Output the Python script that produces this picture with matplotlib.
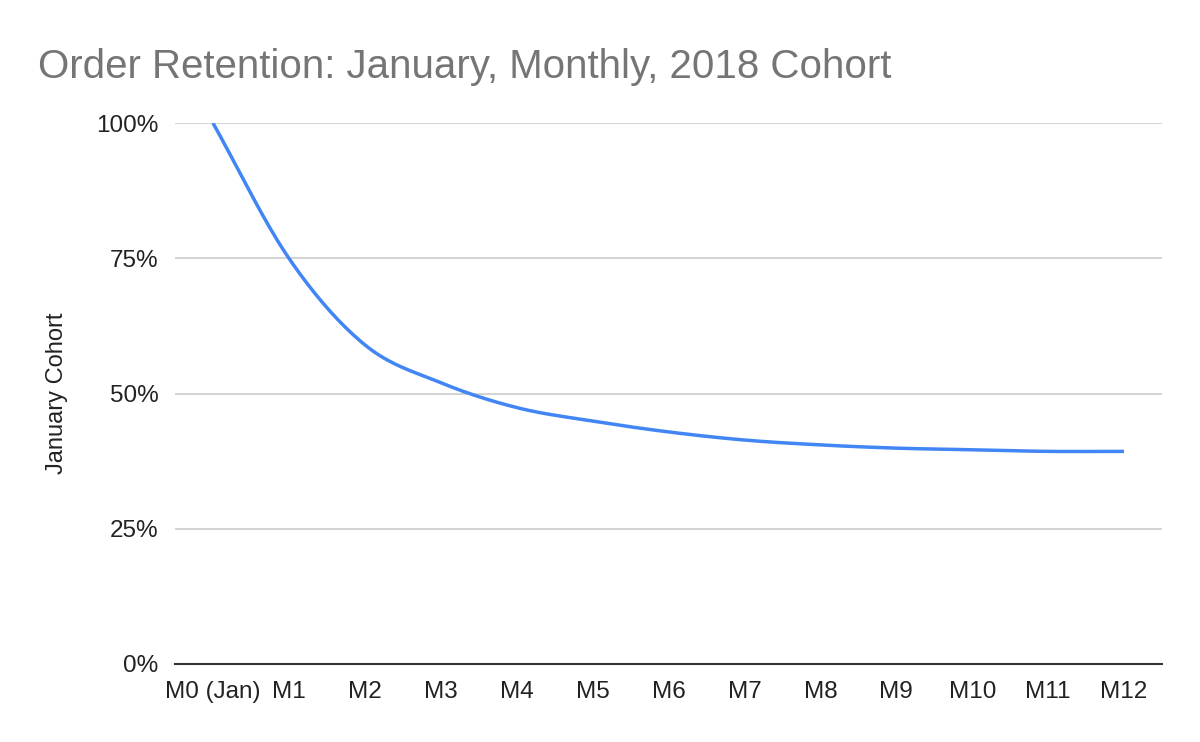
import numpy as np
import matplotlib
matplotlib.use("Agg")
import matplotlib.pyplot as plt
from matplotlib.ticker import FuncFormatter

plt.rcParams['font.family'] = ['Liberation Sans', 'DejaVu Sans']

months = ["M0 (Jan)", "M1", "M2", "M3", "M4", "M5", "M6",
          "M7", "M8", "M9", "M10", "M11", "M12"]
retention = [1.00, 0.75, 0.59, 0.52, 0.474, 0.449, 0.429,
             0.414, 0.405, 0.399, 0.396, 0.393, 0.393]
yticks = [0, 0.25, 0.5, 0.75, 1.0]


def smooth(x, y, n=20):
    # catmull-rom through the points, like the sheets "smooth" line
    x = np.asarray(x, float)
    y = np.asarray(y, float)
    px = np.concatenate([[2 * x[0] - x[1]], x, [2 * x[-1] - x[-2]]])
    py = np.concatenate([[2 * y[0] - y[1]], y, [2 * y[-1] - y[-2]]])
    xs, ys = [], []
    t = np.linspace(0, 1, n, endpoint=False)
    for i in range(1, len(px) - 2):
        for p, out in ((px, xs), (py, ys)):
            p0, p1, p2, p3 = p[i - 1], p[i], p[i + 1], p[i + 2]
            out.extend(0.5 * ((2 * p1) + (-p0 + p2) * t
                              + (2 * p0 - 5 * p1 + 4 * p2 - p3) * t ** 2
                              + (-p0 + 3 * p1 - 3 * p2 + p3) * t ** 3))
    xs.append(x[-1])
    ys.append(y[-1])
    return np.array(xs), np.array(ys)


fig = plt.figure(figsize=(12, 7.42), dpi=100)
ax = fig.add_axes([175 / 1200, 1 - 664 / 742, (1162 - 175) / 1200, (664 - 123) / 742])

xpos = np.arange(len(months))
sx, sy = smooth(xpos, retention)
ax.plot(sx, sy, color="#4285f4", lw=2.5, solid_capstyle="butt", zorder=3)

ax.set_xlim(-0.5, len(months) - 0.5)
ax.set_ylim(0, 1)
ax.set_xticks(xpos)
ax.set_xticklabels(months)
ax.set_yticks(yticks)
ax.yaxis.set_major_formatter(FuncFormatter(lambda v, p: f"{int(round(v * 100))}%"))
ax.grid(axis="y", color="#cccccc", lw=1.2)
ax.set_axisbelow(True)
for s in ["top", "right", "left"]:
    ax.spines[s].set_visible(False)
ax.spines["bottom"].set_color("#333333")
ax.spines["bottom"].set_linewidth(1.5)
ax.spines["bottom"].set_zorder(4)
ax.tick_params(axis="both", length=0, labelsize=17.5, colors="#222222")
ax.tick_params(axis="y", pad=12)
ax.tick_params(axis="x", pad=12)

ax.set_ylabel("January Cohort", fontsize=17, color="#222222", labelpad=20)

fig.text(38 / 1200, 1 - 78 / 742, "Order Retention: January, Monthly, 2018 Cohort",
         fontsize=29, color="#757575", va="baseline", ha="left")

fig.savefig("out.png", dpi=100, facecolor="white")
